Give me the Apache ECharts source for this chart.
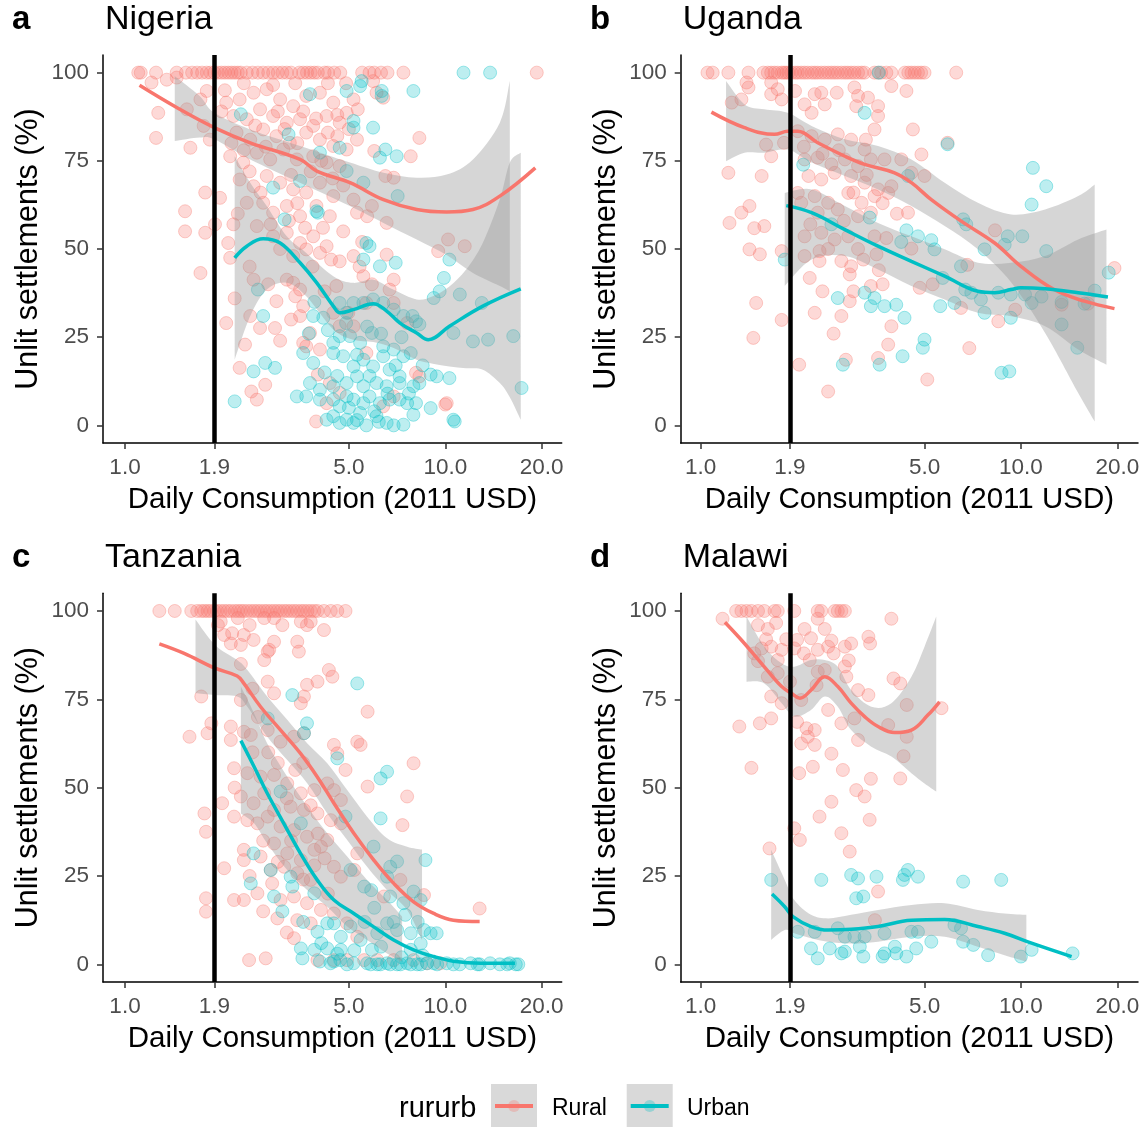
<!DOCTYPE html>
<html lang="en">
<head>
<meta charset="UTF-8">
<title>Unlit settlements vs daily consumption</title>
<script src="https://cdn.jsdelivr.net/npm/echarts@6.0.0/dist/echarts.min.js"></script>
<style>
    html, body { margin: 0; padding: 0; background: #fff; }
    #chart { width: 1146px; height: 1128px; }
</style>
</head>
<body>
<div id="chart"></div>
<script type="text/javascript">
    var FONT = '"Liberation Sans", Arial, sans-serif';
    var RURAL = '#F8766D', URBAN = '#00BFC4';

    // tick labels
    var xTicks = [1.0, 1.9, 5.0, 10.0, 20.0];
    var yTicks = [0, 25, 50, 75, 100];
    var povertyLine = 1.9;

    // ---------- a: Nigeria ----------  [consumption USD, unlit %]
    var nigeriaRuralTop = [1.1, 1.12, 1.25, 1.45, 1.55, 1.62, 1.68, 1.74, 1.8, 1.85, 1.9, 1.95, 2.0, 2.05, 2.1, 2.15, 2.2, 2.25, 2.3, 2.4, 2.5, 2.6, 2.7, 2.8, 2.9, 3.0, 3.1, 3.2, 3.3, 3.5, 3.6, 3.7, 3.8, 3.9, 4.0, 4.2, 4.3, 4.5, 4.7, 5.5, 5.8, 6.0, 6.3, 6.6, 7.4, 19.3];
    var nigeriaRural = [[1.21,97.2],[1.35,98],[1.45,98.6],[1.27,88.6],[1.25,81.5],[1.6,78.7],[1.56,89.6],[1.72,92.4],[1.8,94.8],[1.76,84.9],[1.84,81],[1.78,66],[1.54,60.7],[1.54,55],[1.78,54.6],[1.72,43.2],[1.98,64.5],[1.91,57],[2.18,57],[2.1,51.7],[2.13,47.5],[2.07,29],[2.37,22.9],[2.28,16.3],[2.48,9.6],[2.58,7.3],[2.74,11.5],[2.52,41.3],[2.97,35.2],[2.46,31],[2.64,27.6],[2.94,27.6],[3.4,36.6],[3.6,33.8],[3.78,26.2],[3.6,23.4],[4.0,14.4],[4.68,28.1],[4.68,46.5],[5.17,48],[5.4,45],[6.56,48.4],[6.9,41.3],[6.7,38.5],[8.1,14.9],[10,5.9],[10.2,52.7],[11.5,50.8],[9.5,49.4],[8.3,81.5],[7.8,76.3],[6.9,70.2],[6.5,70.7],[6.0,77.8],[5.3,81],[4.6,82],[5.33,89.6],[6.1,94.3],[6.4,92.9],[5.95,97.6],
        [2.07,91.5],[2.28,92.4],[2.52,94.3],[2.77,95.3],[3.05,92.4],[3.35,90.5],[3.68,93.4],[4.06,94.3],[4.47,91.5],[4.92,88.6],[5.17,92.4],[2.18,87.7],[2.4,86.8],[2.64,89.6],[2.9,87.7],[3.2,85.8],[3.52,86.8],[3.87,84.9],[4.26,87.7],[4.68,85.8],[2.23,83],[2.46,81],[2.7,83.9],[2.97,82],[3.27,80.1],[3.68,83],[4.06,81],[4.47,79.2],[4.92,78.2],[2.13,76.3],[2.34,74.5],[2.58,77.3],[2.84,75.4],[3.12,78.2],[3.44,75.4],[3.87,76.3],[4.26,74.5],[4.68,73.5],[2.28,69.7],[2.52,67.8],[2.77,70.7],[3.05,68.8],[3.35,66.9],[3.68,66],[4.06,68.8],[4.47,65],[2.4,63.1],[2.7,63.1],[2.9,60.3],[3.2,62.2],[3.52,59.3],[3.96,62.2],[4.36,59.3],[2.58,56.5],[2.9,53.6],[3.2,54.6],[3.52,51.7],[3.87,53.6],[4.26,50.8],[3.35,48],[3.68,49.9],[4.06,48.9],[3.35,40.4],[3.52,38.5],[3.2,41.3],[5.17,64],[5.7,59.3],[5.9,62.2],[5.3,60.3],[6.56,57.4],[4.57,39.5],[4.98,31.9],[5.55,42.3],[5.67,34.7],[5.17,28.1],[5.67,20.5],[4.68,9.2],[4.36,12],[4.26,6.3],[3.95,1.1],[6.4,5.4],[6.9,8.2],[8.3,13.9],[10.1,6.3],[6.9,34.7],[7.6,29],[4.47,31.9],[3.52,31],[3.68,22.4],[4.06,21.5],
        [2.0,89],[2.15,80],[2.35,78],[2.55,85],[2.75,79],[3.0,89],[3.15,84],[3.3,71],[3.45,80],[3.6,89],[3.8,72],[3.95,87],[4.1,75],[4.3,83],[4.45,70],[4.6,88],[4.8,68],[5.0,84],[2.25,60],[2.45,72],[2.65,66],[2.85,57],[3.05,50],[3.25,58],[3.45,63],[3.65,56],[3.85,45],[4.15,56],[4.4,47],[2.2,36],[2.45,45],[2.8,40],[3.05,24],[3.3,30],[4.2,38],[4.8,55],[5.5,52],[5.9,40],[2.05,95],[2.35,97],[2.9,96.5],[3.4,97],[4.3,97],[4.9,97]];
    var nigeriaUrban = [[11.4,100],[13.8,100],[7.95,94.8],[4.92,94.8],[5.42,96.2],[5.48,97.6],[6.33,94.8],[6.33,93.4],[3.78,93.9],[5.17,86.3],[5.95,84.4],[5.17,84.4],[4.68,78.7],[6.5,78.2],[7.05,76.3],[6.25,75.9],[3.24,82.5],[4.06,77.3],[4.92,72.1],[5.55,68.8],[7.1,65],[3.52,69.3],[2.9,67.4],[3.96,60.7],[3.15,58.4],[2.3,88.2],[5.67,51.7],[5.8,50.8],[5.55,47],[6.25,45.1],[7.0,46.1],[10.3,47],[9.9,41.8],[9.6,38],[9.2,36.1],[11.1,37.1],[13.0,34.7],[10.6,26.2],[12.2,23.8],[13.6,24.3],[16.3,25.3],[17.3,10.6],[10.6,1.6],[10.7,1.1],[8.1,29.5],[8.3,28.6],[9.0,14.4],[9.4,13.9],[10.3,13.4],[2.6,38.5],[2.7,31],[4.0,60.3],[2.52,15.3],[2.74,17.7],[2.94,16.3],[2.2,6.8],[3.44,8.2],
        [3.87,31],[4.16,30.5],[4.68,34.7],[4.92,31.9],[5.17,34.7],[5.55,34.7],[5.95,35.7],[6.4,34.7],[6.9,32.8],[7.4,31],[4.47,23.4],[4.68,25.3],[5.04,25.3],[5.42,23.4],[5.9,26.2],[6.4,22.4],[6.9,21.5],[7.4,19.6],[7.8,20.5],[3.6,20.5],[3.87,17.7],[4.47,20.5],[4.8,19.6],[5.17,16.7],[5.55,18.6],[5.95,16.7],[6.4,19.6],[6.7,15.8],[7.2,13.9],[3.78,12],[4.06,10.1],[4.47,11.1],[4.92,12],[5.3,13.9],[5.55,11.1],[6.1,12],[6.56,11.1],[7.2,12],[7.95,11.1],[8.3,12],[3.68,8.2],[4.06,7.3],[4.47,7.3],[4.92,8.2],[5.17,7.3],[5.55,6.3],[5.8,8.2],[6.25,6.3],[6.7,7.3],[7.2,7.3],[7.6,6.3],[8.1,6.3],[9.0,4.9],[4.26,1.6],[4.47,2.6],[4.68,0.7],[4.92,1.6],[5.17,0.7],[5.42,3.5],[5.67,0],[6.1,2.6],[6.56,0.7],[6.9,0],[7.4,0.2],[7.95,3],[4.68,5.4],
        [3.75,26],[4.3,27],[4.6,14],[5.0,5],[5.3,20],[5.7,28],[6.0,4],[6.3,26],[6.6,9],[7.0,17],[7.3,25],[7.7,9],[8.5,17],[4.2,15],[3.9,35],[5.8,14],[6.2,1],[5.3,1.5],[4.9,29],[7.9,31]];
    var nigeriaRuralFit = [[1.11,96.4],[1.45,90.1],[1.9,84.4],[2.46,80.1],[3.52,75.4],[3.97,72.1],[5.04,68.8],[6.41,64],[8.14,61.2],[10.1,60.5],[12.2,61.2],[14.8,65],[19.1,73]];
    var nigeriaUrbanFit = [[2.2,47.5],[2.4,50.8],[2.7,52.9],[3.05,51.7],[3.52,46.1],[3.97,40.4],[4.47,33.8],[4.69,31.9],[5.16,32.8],[5.96,34.5],[6.56,32.4],[7.22,29],[8.14,26.2],[8.85,24.3],[10.3,28.1],[13.1,33.8],[17.2,38.7]];
    // band rows: [x, lower, upper]
    var nigeriaRuralBand = [[1.43,80.6,99],[1.71,81.6,93.4],[1.9,81.1,88.6],[2.46,75.4,83.9],[3.52,68.8,79.2],[5.04,62.2,74.5],[6.41,57.4,71.6],[8.14,52.7,70.2],[10.1,48.3,71.1],[12.2,43.2,75.4],[14.8,39.5,85.8],[15.9,38,97.6]];
    var nigeriaUrbanBand = [[2.2,18.6,76.3],[2.46,31,68.8],[2.77,38.5,62.2],[3.2,40.4,53.6],[3.68,36.6,48.9],[4.47,27.2,42.3],[5.16,24.3,40.4],[5.96,23.6,41.3],[6.87,22,38.5],[8.14,18.6,35.7],[9.14,17.5,36.6],[10.3,16.7,39.4],[11.6,16.2,44.1],[13.1,15.8,51.8],[14.8,12,64.1],[15.9,8,74.5],[17.2,1.6,77.3]];

    // ---------- b: Uganda ----------
    var ugandaRuralTop = [1.05, 1.09, 1.22, 1.41, 1.57, 1.62, 1.66, 1.70, 1.74, 1.79, 1.82, 1.85, 1.88, 1.92, 1.97, 2.01, 2.06, 2.11, 2.16, 2.22, 2.27, 2.32, 2.38, 2.44, 2.5, 2.56, 2.62, 2.68, 2.75, 2.82, 2.88, 2.95, 3.02, 3.1, 3.18, 3.25, 3.49, 3.58, 3.66, 3.8, 3.94, 4.34, 4.45, 4.55, 4.66, 4.77, 4.88, 5.0, 6.28];
    var ugandaRural = [[1.39,97.2],[1.41,95.8],[1.34,92.4],[1.25,91.5],[1.66,97.2],[1.66,93.9],[1.79,92.4],[1.74,95.3],[1.97,94.8],[2.11,91],[2.22,88.6],[2.27,93.9],[2.38,94.3],[2.44,91],[2.66,94.3],[3.02,95.8],[3.1,93.4],[3.33,92.9],[3.58,90.5],[3.58,87.7],[3.06,90.5],[3.94,96.2],[4.39,94.8],[3.49,83.9],[3.28,81],[4.6,83.9],[4.89,76.8],[5.9,80.1],
        [1.22,71.6],[1.55,70.7],[1.66,76.3],[1.6,79.6],[1.82,80.1],[1.42,62.2],[1.34,60.3],[1.23,57.4],[1.47,55.9],[1.58,56.5],[1.42,49.9],[1.53,48.5],[1.49,34.7],[1.46,24.8],[1.79,29.9],[1.79,49.4],
        [2.01,83.4],[2.22,82],[2.44,81],[2.68,82.5],[2.95,81],[3.25,78.2],[3.75,75.4],[4.23,75.4],[4.55,71.6],[5.0,70.7],[2.11,75.4],[2.32,75.9],[2.56,74],[2.82,75.4],[3.1,73.5],[3.4,75.4],[2.17,70.7],[2.38,69.7],[2.62,71.6],[2.95,70.7],[3.25,68.8],[3.58,66.9],[3.94,67.8],[2.01,65.9],[2.27,65],[2.5,63.1],[2.89,65.9],[3.18,63.1],[3.49,65],[3.85,65.9],[2.06,63.1],[2.32,60.3],[2.68,61.2],[3.1,59.3],[3.4,60.3],[4.44,60.3],[2.11,53.6],[2.38,54.6],[2.62,52.7],[2.89,53.6],[3.49,53.6],[3.8,53.1],[4.55,50.1],[2.11,48],[2.35,49.4],[2.35,46.6],[2.75,46.6],[2.95,45.1],[3.22,47],[3.54,48.5],[2.19,41.8],[2.92,42.8],[3.4,39.5],[3.7,40],[4.83,39],[5.3,40],
        [2.27,31.9],[2.75,31],[2.92,35.2],[3.94,28.1],[3.85,22.9],[3.58,19.1],[2.84,18.6],[2.03,17.2],[2.5,9.6],[5.1,13],[6.9,21.9],[6.5,33.3],[6.8,45.5],[8.3,55.3],[8.5,29.5],[9.6,32.8],[13.4,34.2],[19.6,44.6],[16.2,34.5],
        [2.1,79],[2.4,77],[2.7,78],[3.0,66],[3.3,71],[3.7,63],[4.1,60],[2.2,57],[2.5,50],[2.8,58],[3.1,50],[3.6,44],[2.4,38],[3.0,38],[2.6,26]];
    var ugandaUrban = [[3.6,100],[3.25,88.6],[5.9,79.7],[2.09,73.9],[10.9,73],[12,67.8],[10.8,62.6],[4.44,70.7],[4.39,55.3],[4.77,53.6],[4.23,52],[5.25,52.5],[3.37,58.9],[2.56,57],[6.6,58.4],[6.75,57],[5.37,49.9],[7.7,49.9],[9.1,53.6],[10.1,53.6],[8.9,51.2],[12,49.4],[6.5,45.1],[5.7,41.8],[6.7,38.5],[7.0,37.6],[6.2,34.7],[5.6,33.8],[7.5,35.7],[7.7,31.9],[8.5,37.6],[9.3,37.1],[10.3,37.1],[10.8,34.7],[11.6,36.5],[13.4,35],[15.8,34.5],[17,38.2],[18.8,43.3],[13.4,28.6],[15,22],[9.3,30.5],[8.7,14.9],[9.2,15.3],[2.68,36.1],[3.25,37.6],[3.49,36.1],[3.4,33.8],[3.75,33.8],[4.08,34.2],[4.33,30.5],[5.0,24.3],[4.94,22],[4.27,19.6],[3.62,17.2],[2.78,17.2],[1.83,47]];
    var ugandaRuralFit = [[1.08,88.8],[1.37,84.4],[1.70,82.5],[1.87,83.4],[2.01,83.4],[2.32,80.1],[2.82,76.3],[3.25,74],[4.03,71.6],[4.55,68.8],[5.25,64],[6.51,57.9],[8.28,51.7],[10.0,45.1],[12.7,38.5],[15.8,35.2],[19.6,33.1]];
    var ugandaUrbanFit = [[1.85,62.3],[2.22,60.3],[2.82,55.5],[3.58,50.8],[4.55,46.5],[5.78,42.3],[7.34,38],[8.28,37.6],[9.33,38.5],[10.0,39],[11.9,38.7],[15.1,37.6],[18.7,36.4]];
    var ugandaRuralBand = [[1.2,74.9,97.6],[1.37,77.3,91],[1.58,77.3,89.6],[1.87,78.2,88.6],[2.22,74.5,84.9],[2.82,70.7,81.1],[3.58,66.9,79.2],[4.55,62.2,75.4],[5.78,56.5,68.8],[7.34,49.9,63.1],[9.33,40.5,59.8],[11.9,26.2,61.2],[15.1,9.2,65],[17,1.1,68.3]];
    var ugandaUrbanBand = [[1.83,39.5,65.9],[2.22,47,66.9],[2.82,48,62.2],[3.58,44.2,57.4],[4.55,39.5,53.6],[5.78,35.7,49.9],[7.34,31.9,46.1],[9.33,30.9,46.1],[11.9,28.1,48],[15.1,21.5,52.7],[18.5,17.2,55.5]];

    // ---------- c: Tanzania ----------
    var tanzaniaRuralTop = [1.28, 1.43, 1.61, 1.68, 1.73, 1.77, 1.81, 1.85, 1.9, 1.94, 1.99, 2.04, 2.09, 2.14, 2.2, 2.25, 2.3, 2.35, 2.41, 2.47, 2.53, 2.59, 2.65, 2.72, 2.78, 2.85, 2.92, 2.99, 3.06, 3.14, 3.21, 3.29, 3.37, 3.45, 3.54, 3.62, 3.71, 3.8, 3.9, 3.99, 4.18, 4.39, 4.6, 4.88];
    var tanzaniaRural = [[1.73,75.8],[1.59,64.4],[1.81,65.4],[1.86,68.2],[1.77,42.7],[1.79,37.5],[1.79,18.7],[1.79,14.9],[2.01,45.6],[2.19,41.8],[2.04,27.2],[2.19,18.2],[2.35,18.2],[2.44,1.2],[2.75,1.7],
        [1.99,97],[2.25,98],[2.72,98],[2.92,98],[3.54,97],[3.8,97],[4.18,94.6],[2.04,93.2],[2.16,93.7],[2.35,93.2],[2.52,91.8],[2.3,90.4],[2.14,90.8],[2.82,89],[2.92,91.3],[3.45,91.3],[3.49,88.5],[2.72,86.1],[2.79,88.5],[4.33,83.3],[4.44,81.4],[3.99,80],[3.7,79.1],[2.79,80],[2.92,76.7],[2.3,74.8],[3.62,75.8],[3.54,73.9],[5.72,71.5],[2.14,67.3],[2.14,63.5],[2.35,65.8],[2.47,64.9],[2.79,66.3],[3.06,63],[3.37,64.4],[3.62,65.4],[4.49,62.1],[4.6,59.7],[5.31,63],[5.44,62.1],[7.96,56.9],[4.88,55],[5.72,50.3],[7.6,47.5],[7.35,39.4],
        [2.19,55.5],[2.41,54.1],[2.65,53.1],[2.92,53.6],[3.21,51.2],[3.54,48.4],[3.9,49.3],[4.28,51.2],[4.49,49.3],[4.72,46.5],[2.3,47.5],[2.52,45.6],[2.72,48.4],[2.92,43.7],[3.29,44.6],[3.62,43.7],[3.99,42.7],[4.39,40.8],[4.72,39.9],[2.41,40.8],[2.59,39.9],[2.79,41.8],[3.06,39],[3.37,38],[3.7,36.1],[4.09,33.3],[4.28,35.2],[2.35,32.4],[2.65,30.5],[2.92,34.2],[3.21,31.4],[3.54,29.5],[3.9,32.4],[2.35,29.5],[2.85,26.7],[3.14,27.6],[3.45,25.8],[3.8,23.9],[4.49,27.6],[4.72,24.8],[5.31,31.4],[5.2,26.7],[2.59,20.1],[2.88,22.9],[3.06,18.2],[3.37,19.2],[3.7,17.3],[4.09,15.4],[4.49,14.4],[2.99,13],[3.45,12.5],[3.8,11.6],[3.37,7.4],[4.93,11.6],[5.31,7.8],[6.43,19.2],[7.24,23.9],[8.58,19.6],[12.8,15.8],
        [3.99,1.2],[4.49,1.2],[4.93,1.2],[5.58,1.2],[6.13,1.2],[6.9,1.2],[7.96,1.2],[8.77,0.3],[9.64,0.3],
        [2.3,85],[2.5,78],[2.6,70],[2.8,60],[3.0,57],[3.2,47],[3.4,55],[3.6,57],[3.8,45],[4.0,37],[4.2,30],[2.5,60],[2.7,35],[3.0,29],[3.3,35],[3.6,24],[3.9,28],[4.3,20],[2.2,50],[2.45,25],[2.7,15],[3.2,9],[1.95,96],[2.45,96],[3.1,96],[3.7,96]];
    var tanzaniaUrban = [[5.31,79.5],[3.33,76.2],[3.7,68.2],[3.62,65.4],[2.79,69.6],[4.6,58.3],[6.58,54.5],[6.28,52.6],[6.28,41.3],[4.88,41.8],[3.54,39.9],[3.06,48.9],[2.52,31.4],[2.85,26.7],[2.47,22.9],[2.92,19.2],[3.29,24.8],[3.33,22],[3.9,20.1],[5.06,26.7],[5.58,22],[5.87,21],[6.73,27.6],[7.07,29.1],[8.67,29.5],[5.97,33.3],[6.58,24.8],[6.73,19.2],[7.4,17.3],[7.96,20.6],[8.38,18.2],[3.54,4.5],[3.58,1.7],[3.99,9.2],[4.28,11.6],[4.49,11.6],[4.72,7.8],[5.06,10.7],[5.44,6.9],[6.13,8.8],[6.58,11.6],[7.07,9.7],[7.8,8.8],[8.58,9.7],[9.0,8.8],[9.4,8.8],[7.8,4.1],[8.38,5.9],[3.9,4.1],[4.28,4.5],[4.72,4.1],[5.9,4.1],
        [4.06,0.8],[4.38,0.3],[4.7,1.2],[5.17,0.3],[5.7,0.3],[6.13,0],[6.58,0.3],[7.07,0],[7.6,0.3],[8.17,0],[8.77,0.3],[9.43,0],[10.1,0.3],[11.1,0],[12,0.3],[12.8,0],[13.8,0.3],[14.8,0],[15.9,0.3],[16.9,0],[5.85,0],[6.27,0],[6.73,0],[7.24,0],[7.8,0],[8.38,0],[9.2,0.3],[10.6,0],[12.6,0],[15.6,0],[16.6,0],[4.49,0.8],[4.93,0],
        [3.1,15],[3.6,12],[4.1,6],[4.6,3],[5.2,4],[5.6,12],[6.0,16],[6.9,12],[7.5,14],[8.2,12],[6.3,5],[7.3,2],[8.5,2.5]];
    var tanzaniaRuralFit = [[1.28,90.7],[1.53,88],[1.91,83.8],[2.24,81.6],[2.35,79.5],[2.65,72.9],[3.06,66.3],[3.53,59.7],[3.98,53.1],[4.49,45.6],[5.18,37.1],[5.98,29.5],[6.9,22.9],[7.96,17.7],[9.2,14.4],[10.6,12.5],[12.8,12.1]];
    var tanzaniaUrbanFit = [[2.3,63.3],[2.53,55.9],[2.78,48.4],[3.13,39.9],[3.53,31.4],[3.98,23.9],[4.49,18.2],[5.18,14.4],[5.98,10.6],[6.9,6.9],[7.96,4.1],[9.2,2.2],[10.6,0.9],[12.9,0.3],[16.5,0.3]];
    var tanzaniaRuralBand = [[1.66,76.7,97.6],[1.91,76.2,90.4],[2.24,75.8,86.1],[2.41,72.9,83.3],[2.78,64.4,75.8],[3.21,57.8,69.2],[3.71,51.2,62.5],[4.28,42.7,56.9],[4.94,35.2,49.3],[5.7,27.6,41.8],[6.58,21,35.7],[7.6,15.4,33.3],[8.46,6.9,32.5]];
    var tanzaniaUrbanBand = [[2.3,42.7,78.6],[2.53,39.9,71],[2.78,34.2,62.5],[3.21,26.7,53.1],[3.71,21,44.6],[4.28,16.3,37.1],[4.94,10.7,30.5],[5.7,6.9,23.9],[6.58,3.1,18.2],[7.33,0.8,13.5]];

    // ---------- d: Malawi ----------
    var malawiRuralTop = [1.29, 1.34, 1.39, 1.44, 1.51, 1.58, 1.70, 1.74, 1.96, 2.32, 2.38, 2.62, 2.68, 2.75, 2.82];
    var malawiRural = [[1.17,97.8],[3.94,97.8],[1.51,96],[1.72,96.6],[1.62,94.9],[2.11,94.9],[2.32,97.8],[2.0,91.8],[2.21,92.3],[2.44,94.9],[2.56,91.6],[2.82,89.9],[2.95,90.8],[3.34,92.7],[3.38,90.8],[1.96,89.4],[2.32,89],[2.5,89.9],[1.66,89.9],[1.79,89],[1.74,86.1],[1.55,89.4],[1.47,88],[2.19,86.1],[2.82,84.3],[2.85,81.4],[2.44,83.3],[2.32,82.8],[1.51,85.8],[1.62,81.4],[1.74,82.4],[1.66,75.8],[1.79,73.9],[2.06,74.8],[3.1,77.6],[3.34,76.2],[4.0,80.9],[4.2,79.5],[4.4,73.4],[5.65,72.5],[1.32,67.3],[1.53,68.2],[1.66,69.6],[2.0,68.6],[2.14,66.8],[2.27,66.3],[2.75,68.2],[3.02,69.6],[3.85,67.7],[4.4,64.4],[2.06,62.5],[2.27,62.1],[2.16,64.4],[2.56,59.6],[3.1,63.5],[1.44,55.6],[2.24,55.9],[2.03,54.1],[2.78,55],[3.4,52.5],[4.3,58.9],[4.2,52.6],[3.06,49.3],[3.25,47.5],[2.56,46],[2.35,41.8],[3.37,40.9],[2.75,37.1],[1.96,38.5],[2.04,35.2],[2.92,31.9],[1.64,32.8],[3.58,20.6],[3.5,12.5],
        [1.85,92],[2.1,88],[2.6,88],[2.9,86],[2.3,79],[1.9,80],[2.5,72],[1.6,92]];
    var malawiUrban = [[1.66,23.9],[2.38,23.9],[2.95,25.3],[3.1,24.3],[3.54,24.8],[4.33,25.3],[4.44,26.7],[4.77,24.8],[4.28,23.9],[6.6,23.4],[8.68,23.9],[3.06,18.7],[3.22,19.2],[2.01,9.2],[2.27,9.2],[2.68,10.2],[2.82,7.8],[3.02,7.8],[3.25,7.8],[3.75,8.8],[4.55,9.2],[4.77,9.2],[5.25,6.4],[6.2,11.1],[6.5,10.2],[6.6,6.4],[7.1,5.5],[7.9,2.6],[10.0,2.2],[10.8,4.1],[14.5,3.1],[2.21,4.5],[2.32,1.7],[2.53,4.5],[2.75,3.1],[2.82,3.6],[3.14,5],[3.22,2.2],[3.7,2.2],[3.75,3.1],[4.04,5],[4.08,3.1],[4.39,2.2],[4.71,4.5]];
    var malawiRuralFit = [[1.19,96.8],[1.37,90.8],[1.58,84.2],[1.79,78.6],[1.92,76.7],[2.04,75.3],[2.21,77.6],[2.44,81.4],[2.68,78.6],[2.95,73.9],[3.25,70.1],[3.58,67.3],[4.03,65.6],[4.55,66.3],[5.13,70.6],[5.57,74.3]];
    var malawiUrbanFit = [[1.67,19.9],[1.83,16.3],[1.94,13.5],[2.21,10.7],[2.5,9.7],[2.95,9.9],[3.58,10.7],[4.55,12.5],[5.78,12.7],[7.34,10.7],[8.89,8.8],[10.8,6],[14.4,2.2]];
    var malawiRuralBand = [[1.39,80,98.4],[1.58,79.5,89.9],[1.79,73.9,85.2],[1.96,70.1,84.2],[2.21,72,86.1],[2.44,75.8,86.1],[2.68,72.9,84.2],[2.95,66.3,77.6],[3.41,61.6,72.9],[3.94,58.8,73.9],[4.55,54.1,81.4],[5.0,51.2,89.9],[5.44,48.9,98.4]];
    var malawiUrbanBand = [[1.66,6.9,32.4],[1.83,9.7,23.9],[1.96,8.8,18.2],[2.21,7.4,14],[2.5,6.4,13],[2.95,5.9,14],[3.58,6.4,15.4],[4.55,7.8,16.8],[5.78,7.8,17.3],[7.34,5,15.4],[8.89,2.6,14.4],[10.4,0.8,14]];

    var panels = [
        { tag: 'a', name: 'Nigeria',  rTop: nigeriaRuralTop,  rural: nigeriaRural,  urban: nigeriaUrban,  rFit: nigeriaRuralFit,  uFit: nigeriaUrbanFit,  rBand: nigeriaRuralBand,  uBand: nigeriaUrbanBand },
        { tag: 'b', name: 'Uganda',   rTop: ugandaRuralTop,   rural: ugandaRural,   urban: ugandaUrban,   rFit: ugandaRuralFit,   uFit: ugandaUrbanFit,   rBand: ugandaRuralBand,   uBand: ugandaUrbanBand },
        { tag: 'c', name: 'Tanzania', rTop: tanzaniaRuralTop, rural: tanzaniaRural, urban: tanzaniaUrban, rFit: tanzaniaRuralFit, uFit: tanzaniaUrbanFit, rBand: tanzaniaRuralBand, uBand: tanzaniaUrbanBand },
        { tag: 'd', name: 'Malawi',   rTop: malawiRuralTop,   rural: malawiRural,   urban: malawiUrban,   rFit: malawiRuralFit,   uFit: malawiUrbanFit,   rBand: malawiRuralBand,   uBand: malawiUrbanBand }
    ];

    // panel boxes (px) and log10 x ranges
    var layout = [
        { left: 103,   top: 55,    width: 458.7, height: 388,   xmin: -0.0687, xmax: 1.3634, tx: 12,  ty: 3 },
        { left: 680.7, top: 55,    width: 457.3, height: 388,   xmin: -0.0625, xmax: 1.3657, tx: 590, ty: 3 },
        { left: 103,   top: 593.3, width: 458.7, height: 388.7, xmin: -0.0687, xmax: 1.3634, tx: 12,  ty: 541 },
        { left: 680.7, top: 593.3, width: 457.3, height: 388.7, xmin: -0.0625, xmax: 1.3657, tx: 590, ty: 541 }
    ];

    function logx(arr) {
        return arr.map(function (p) { return [Math.log10(p[0]), p[1]]; });
    }

    // smooth path through pixel points (catmull-rom -> bezier)
    function curvePath(pts, move) {
        var d = (move ? 'M' : 'L') + pts[0][0] + ' ' + pts[0][1];
        for (var j = 0; j < pts.length - 1; j++) {
            var p0 = pts[j - 1] || pts[j], p1 = pts[j], p2 = pts[j + 1], p3 = pts[j + 2] || pts[j + 1];
            var c1x = p1[0] + (p2[0] - p0[0]) / 6, c1y = p1[1] + (p2[1] - p0[1]) / 6;
            var c2x = p2[0] - (p3[0] - p1[0]) / 6, c2y = p2[1] - (p3[1] - p1[1]) / 6;
            d += ' C' + c1x + ' ' + c1y + ' ' + c2x + ' ' + c2y + ' ' + p2[0] + ' ' + p2[1];
        }
        return d;
    }

    function bandSeries(band, i) {
        var rows = band.map(function (b) { return [Math.log10(b[0]), b[1], b[2]]; });
        return {
            type: 'custom', xAxisIndex: i, yAxisIndex: i, z: 3, silent: true, clip: true,
            data: rows,
            encode: { x: 0, y: [1, 2] },
            renderItem: function (params, api) {
                if (params.dataIndex !== 0) return null;
                var up = rows.map(function (r) { return api.coord([r[0], r[2]]); });
                var lo = rows.map(function (r) { return api.coord([r[0], r[1]]); }).reverse();
                return {
                    type: 'path',
                    shape: { pathData: curvePath(up, true) + ' ' + curvePath(lo, false) + ' Z' },
                    style: { fill: 'rgba(153,153,153,0.4)' }
                };
            }
        };
    }

    var xTickVals = xTicks.map(function (v) { return Math.log10(v); });

    var grids = [], xAxes = [], yAxes = [], series = [], graphics = [];

    panels.forEach(function (p, i) {
        var L = layout[i];
        grids.push({ left: L.left, top: L.top, width: L.width, height: L.height });
        xAxes.push({
            type: 'value', gridIndex: i, min: L.xmin, max: L.xmax,
            name: 'Daily Consumption (2011 USD)', nameLocation: 'middle', nameGap: 42,
            nameTextStyle: { fontFamily: FONT, fontSize: 29.5, color: '#000' },
            axisLine: { show: true, onZero: false, lineStyle: { color: '#000', width: 1.5 } },
            axisTick: { show: true, customValues: xTickVals, length: 6, lineStyle: { color: '#333', width: 1.5 } },
            axisLabel: {
                customValues: xTickVals, margin: 13, color: '#4d4d4d', fontFamily: FONT, fontSize: 22.5,
                formatter: function (v) { return Math.pow(10, v).toFixed(1); }
            },
            splitLine: { show: false }
        });
        yAxes.push({
            type: 'value', gridIndex: i, min: -5, max: 105,
            name: 'Unlit settlements (%)', nameLocation: 'middle', nameGap: 59, nameRotate: 90,
            nameTextStyle: { fontFamily: FONT, fontSize: 30.5, color: '#000' },
            axisLine: { show: true, onZero: false, lineStyle: { color: '#000', width: 1.5 } },
            axisTick: { show: true, customValues: yTicks, length: 6, lineStyle: { color: '#333', width: 1.5 } },
            axisLabel: { customValues: yTicks, margin: 14, color: '#4d4d4d', fontFamily: FONT, fontSize: 22.5 },
            splitLine: { show: false }
        });

        var ruralPts = logx(p.rTop.map(function (x) { return [x, 100]; }).concat(p.rural));
        var urbanPts = logx(p.urban);

        series.push({
            type: 'scatter', xAxisIndex: i, yAxisIndex: i, z: 2, silent: true,
            symbolSize: 13, data: ruralPts,
            itemStyle: { color: 'rgba(248,118,109,0.34)', borderColor: 'rgba(248,118,109,0.45)', borderWidth: 1 }
        });
        series.push({
            type: 'scatter', xAxisIndex: i, yAxisIndex: i, z: 2, silent: true,
            symbolSize: 13, data: urbanPts,
            itemStyle: { color: 'rgba(0,191,196,0.32)', borderColor: 'rgba(0,191,196,0.45)', borderWidth: 1 }
        });

        series.push(bandSeries(p.rBand, i));
        series.push(bandSeries(p.uBand, i));

        series.push({
            type: 'line', xAxisIndex: i, yAxisIndex: i, z: 4, silent: true,
            symbol: 'none', smooth: 0.4, data: logx(p.rFit),
            lineStyle: { color: RURAL, width: 3.5 }
        });
        series.push({
            type: 'line', xAxisIndex: i, yAxisIndex: i, z: 4, silent: true,
            symbol: 'none', smooth: 0.4, data: logx(p.uFit),
            lineStyle: { color: URBAN, width: 3.5 },
            markLine: {
                silent: true, symbol: ['none', 'none'], label: { show: false },
                lineStyle: { color: '#000', width: 4.5, type: 'solid' },
                data: [{ xAxis: Math.log10(povertyLine) }]
            }
        });

        graphics.push({
            type: 'text', left: L.tx, top: L.ty,
            style: { text: p.tag, fontFamily: FONT, fontSize: 33, fontWeight: 'bold', fill: '#000' }
        });
        graphics.push({
            type: 'text', left: L.left + 2, top: L.ty,
            style: { text: p.name, fontFamily: FONT, fontSize: 34, fill: '#000' }
        });
    });

    // legend
    var legendItems = [
        { label: 'Rural', color: RURAL, fill: 'rgba(248,118,109,0.3)', box: 491, text: 552 },
        { label: 'Urban', color: URBAN, fill: 'rgba(0,191,196,0.3)', box: 626.7, text: 687 }
    ];
    graphics.push({
        type: 'text', left: 399, top: 1094,
        style: { text: 'rururb', fontFamily: FONT, fontSize: 29, fill: '#000' }
    });
    legendItems.forEach(function (it) {
        graphics.push({ type: 'rect', shape: { x: it.box, y: 1084, width: 46, height: 43 }, style: { fill: '#d9d9d9' } });
        graphics.push({ type: 'circle', shape: { cx: it.box + 23, cy: 1106, r: 6 }, style: { fill: it.fill } });
        graphics.push({ type: 'line', shape: { x1: it.box + 4, y1: 1106, x2: it.box + 42, y2: 1106 }, style: { stroke: it.color, lineWidth: 4 } });
        graphics.push({
            type: 'text', left: it.text, top: 1097,
            style: { text: it.label, fontFamily: FONT, fontSize: 23, fill: '#000' }
        });
    });

    var chart = echarts.init(document.getElementById('chart'));
    chart.setOption({
        animation: false,
        backgroundColor: '#fff',
        grid: grids,
        xAxis: xAxes,
        yAxis: yAxes,
        series: series,
        graphic: graphics
    });
</script>
</body>
</html>
